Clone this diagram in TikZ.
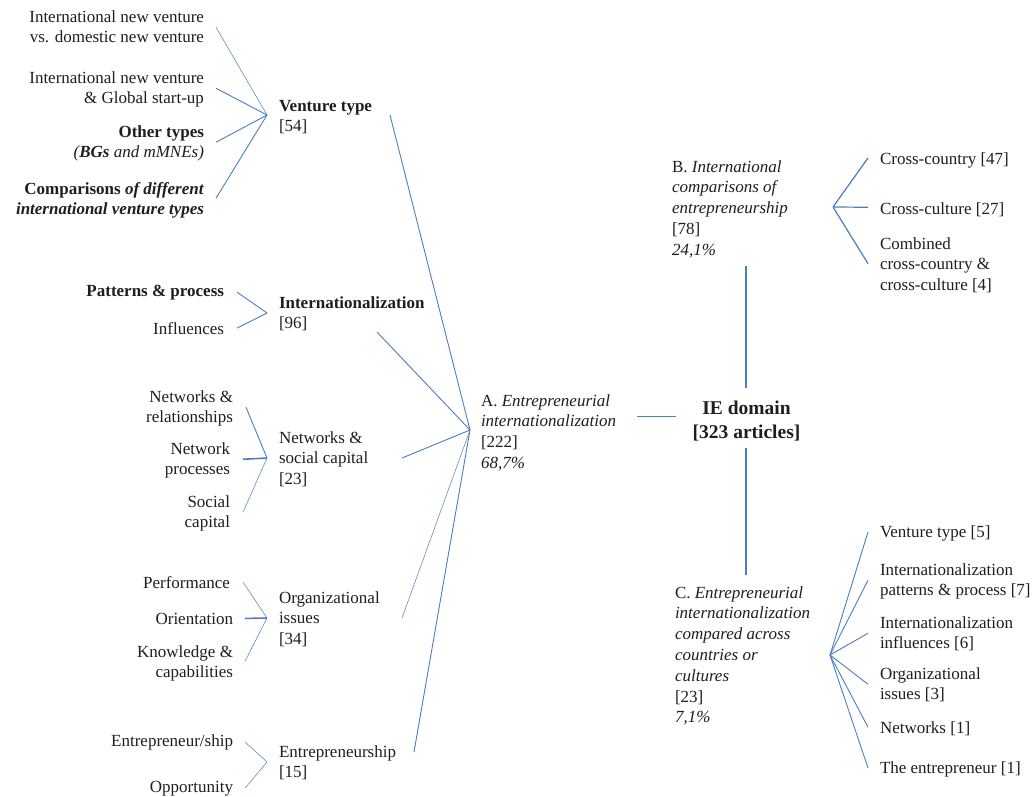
\documentclass[tikz,border=0pt]{standalone}
\usepackage{fontspec}
\setmainfont{Liberation Serif}
\usetikzlibrary{calc}
\definecolor{linkblue}{RGB}{74,126,190}
\definecolor{ink}{RGB}{30,30,30}
% multi-line labels whose baseline is the first line
\newcommand{\leftlines}[1]{\begin{tabular}[t]{@{}l@{}}#1\end{tabular}}
\newcommand{\rightlines}[1]{\begin{tabular}[t]{@{}r@{}}#1\end{tabular}}
\begin{document}
\begin{tikzpicture}[x=1pt,y=-1pt,
  every node/.style={inner sep=0pt,outer sep=0pt,text=ink,
    font=\fontsize{17}{20.8}\selectfont},
  leafL/.style={anchor=base east},
  midL/.style={anchor=base west},
  leafR/.style={anchor=base west},
  link/.style={draw=linkblue,line width=0.9pt},
  thinlink/.style={draw=linkblue,line width=0.5pt},
  midlink/.style={draw=linkblue,line width=1.2pt},
  thicklink/.style={draw=linkblue,line width=1.6pt}]
\useasboundingbox (0,0) rectangle (1035,796);

% ---------------- left branch: sub-topics ----------------
\node[leafL] (l1) at (204,22) {\rightlines{International new venture\\vs. domestic new venture}};
\node[leafL] (l2) at (204,83) {\rightlines{International new venture\\\& Global start-up}};
\node[leafL] (l3) at (204,137) {\rightlines{\textbf{Other types}\\\textit{(\textbf{BGs} and mMNEs)}}};
\node[leafL] (l4) at (204,194) {\rightlines{\textbf{Comparisons \textit{of different}}\\\textbf{\textit{international venture types}}}};

\node[leafL] (p1) at (224,296) {\textbf{Patterns \& process}};
\node[leafL] (p2) at (224,334) {Influences};

\node[leafL] (n1) at (233,402) {\rightlines{Networks \&\\relationships}};
\node[leafL] (n2) at (230,454) {\rightlines{Network\\processes}};
\node[leafL] (n3) at (230,507) {\rightlines{Social\\capital}};

\node[leafL] (o1) at (230,588) {Performance};
\node[leafL] (o2) at (233,624) {Orientation};
\node[leafL] (o3) at (233,657) {\rightlines{Knowledge \&\\capabilities}};

\node[leafL] (e1) at (233,746) {Entrepreneur/ship};
\node[leafL] (e2) at (233,792) {Opportunity};

% ---------------- left branch: topics ----------------
\node[midL] (vt) at (279,111) {\leftlines{\textbf{Venture type}\\{[54]}}};
\node[midL] (in) at (279,308) {\leftlines{\textbf{Internationalization}\\{[96]}}};
\node[midL] (ns) at (279,443) {\leftlines{Networks \&\\social capital\\{[23]}}};
\node[midL] (oi) at (279,603) {\leftlines{Organizational\\issues\\{[34]}}};
\node[midL] (en) at (279,757) {\leftlines{Entrepreneurship\\{[15]}}};

% ---------------- main categories ----------------
\node[midL] (A) at (481,406) {\leftlines{A. \textit{Entrepreneurial}\\\textit{internationalization}\\{[222]}\\\textit{68,7\%}}};
\node[anchor=base] (IE) at (746.5,414) {\fontsize{19.5}{24}\selectfont\begin{tabular}[t]{@{}c@{}}\textbf{IE domain}\\\textbf{[323 articles]}\end{tabular}};
\node[midL] (B) at (672,172) {\leftlines{B. \textit{International}\\\textit{comparisons of}\\\textit{entrepreneurship}\\{[78]}\\\textit{24,1\%}}};
\node[midL] (C) at (675,598) {\leftlines{C. \textit{Entrepreneurial}\\\textit{internationalization}\\\textit{compared across}\\\textit{countries or}\\\textit{cultures}\\{[23]}\\\textit{7,1\%}}};

% ---------------- right branch: sub-topics ----------------
\node[leafR] (b1) at (880,164) {Cross-country [47]};
\node[leafR] (b2) at (880,214) {Cross-culture [27]};
\node[leafR] (b3) at (880,249) {\leftlines{Combined\\cross-country \&\\cross-culture [4]}};

\node[leafR] (c1) at (880,537) {Venture type [5]};
\node[leafR] (c2) at (880,575) {\leftlines{Internationalization\\patterns \& process [7]}};
\node[leafR] (c3) at (880,628) {\leftlines{Internationalization\\influences [6]}};
\node[leafR] (c4) at (880,679) {\leftlines{Organizational\\issues [3]}};
\node[leafR] (c5) at (880,733) {Networks [1]};
\node[leafR] (c6) at (880,773) {The entrepreneur [1]};

% ---------------- junction points ----------------
\coordinate (hvt) at (267,115);
\coordinate (hin) at (267,313);
\coordinate (hns) at (267,458);
\coordinate (hoi) at (267,618);
\coordinate (hen) at (267,762);
\coordinate (hA) at (470,430);
\coordinate (hB) at (833,207);
\coordinate (hC) at (830,655);

\coordinate (vtout) at (390,115);
\coordinate (inout) at (377,332);
\coordinate (nsout) at (402,458);
\coordinate (oiout) at (402,618);
\coordinate (enout) at (414,752);
\coordinate (Aout) at (637,416);
\coordinate (IEin) at (676,416);
\coordinate (IEtop) at (746,388);
\coordinate (IEbot) at (746,448);
\coordinate (Bbot) at (746,266);
\coordinate (Ctop) at (746,575);

% ---------------- connectors ----------------
\draw[thinlink] ($(l1.east)+(12,-1)$) -- (hvt);
\draw[link] ($(l2.east)+(12,-1)$) -- (hvt);
\draw[link] ($(l3.east)+(12,-1)$) -- (hvt);
\draw[link] ($(l4.east)+(12,-2)$) -- (hvt);

\draw[link] ($(p1.east)+(13,0)$) -- (hin);
\draw[link] ($(p2.east)+(13,0)$) -- (hin);

\draw[link] ($(n1.east)+(13,-1)$) -- (hns);
\draw[thicklink] ($(n2.east)+(13,-1)$) -- (hns);
\draw[thinlink] ($(n3.east)+(13,-1)$) -- (hns);

\draw[thinlink] ($(o1.east)+(13,0)$) -- (hoi);
\draw[thicklink] ($(o2.east)+(12,0)$) -- (hoi);
\draw[thinlink] ($(o3.east)+(12,-2)$) -- (hoi);

\draw[thinlink] ($(e1.east)+(12,0)$) -- (hen);
\draw[thinlink] ($(e2.east)+(12,0)$) -- (hen);

\draw[link] (vtout) -- (hA);
\draw[link] (inout) -- (hA);
\draw[link] (nsout) -- (hA);
\draw[thinlink] (oiout) -- (hA);
\draw[link] (enout) -- (hA);

\draw[link] (Aout) -- (IEin);
\draw[thicklink] (IEtop) -- (Bbot);
\draw[thicklink] (IEbot) -- (Ctop);

\draw[midlink] (hB) -- ($(b1.west)+(-12,-2)$);
\draw[midlink] (hB) -- ($(b2.west)+(-12,-2)$);
\draw[midlink] (hB) -- ($(b3.west)+(-12,-2)$);

\draw[link] (hC) -- ($(c1.west)+(-12,-1)$);
\draw[link] (hC) -- ($(c2.west)+(-12,-1)$);
\draw[link] (hC) -- ($(c3.west)+(-12,-1)$);
\draw[link] (hC) -- ($(c4.west)+(-12,-1)$);
\draw[link] (hC) -- ($(c5.west)+(-12,-1)$);
\draw[link] (hC) -- ($(c6.west)+(-12,-1)$);
\end{tikzpicture}
\end{document}
